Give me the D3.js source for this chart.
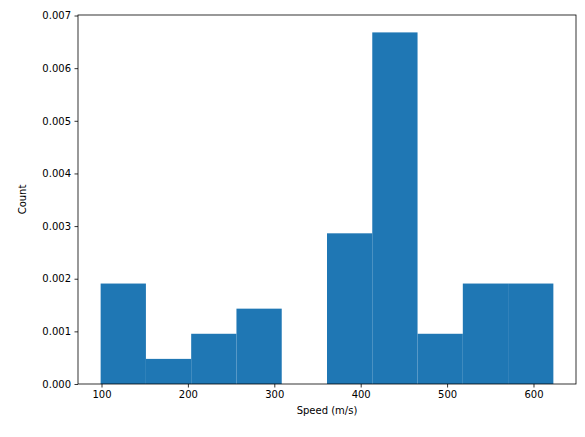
<!DOCTYPE html><html><head><script src="https://cdn.jsdelivr.net/npm/d3@7"></script>
<style>body{margin:0;background:#fff}text{font-family:"DejaVu Sans",sans-serif}</style></head><body><script>
const binStart=99, binEnd=623;
const counts=[4,1,2,3,0,6,14,2,4,4];
const total=40;
const xTicks=[100,200,300,400,500,600];
const yTicks=[0,0.001,0.002,0.003,0.004,0.005,0.006,0.007];
const W=585,H=437,L=78,R=576,T=15,B=384;
const w=(binEnd-binStart)/counts.length;
const x=d3.scaleLinear().domain([72.8,649.2]).range([L,R]);
const y=d3.scaleLinear().domain([0,0.00701]).range([B,T]);
const svg=d3.select("body").append("svg").attr("width",W).attr("height",H);
svg.selectAll("rect.b").data(counts).enter().append("rect")
 .attr("x",(d,i)=>x(binStart+i*w)).attr("width",(d,i)=>x(binStart+(i+1)*w)-x(binStart+i*w))
 .attr("y",d=>y(d/(total*w))).attr("height",d=>B-y(d/(total*w))).attr("fill","#1f77b4");
const gx=svg.append("g").attr("transform",`translate(0,${B})`).call(d3.axisBottom(x).tickValues(xTicks).tickSize(3.5).tickPadding(3.5));
const gy=svg.append("g").attr("transform",`translate(${L},0)`).call(d3.axisLeft(y).tickValues(yTicks).tickFormat(d3.format(".3f")).tickSize(3.5).tickPadding(3.5));
[gx,gy].forEach(g=>{g.select(".domain").remove();g.selectAll("text").attr("font-size",10).attr("fill","#000").attr("font-family","DejaVu Sans");g.selectAll("line").attr("stroke","#000").attr("stroke-width",0.8);});
svg.append("rect").attr("x",L).attr("y",T).attr("width",R-L).attr("height",B-T).attr("fill","none").attr("stroke","#000").attr("stroke-width",0.8);
svg.append("text").attr("x",(L+R)/2).attr("y",B+30).attr("text-anchor","middle").attr("font-size",10).text("Speed (m/s)");
svg.append("text").attr("transform",`translate(${L-52},${(T+B)/2}) rotate(-90)`).attr("text-anchor","middle").attr("font-size",10).text("Count");
</script></body></html>
